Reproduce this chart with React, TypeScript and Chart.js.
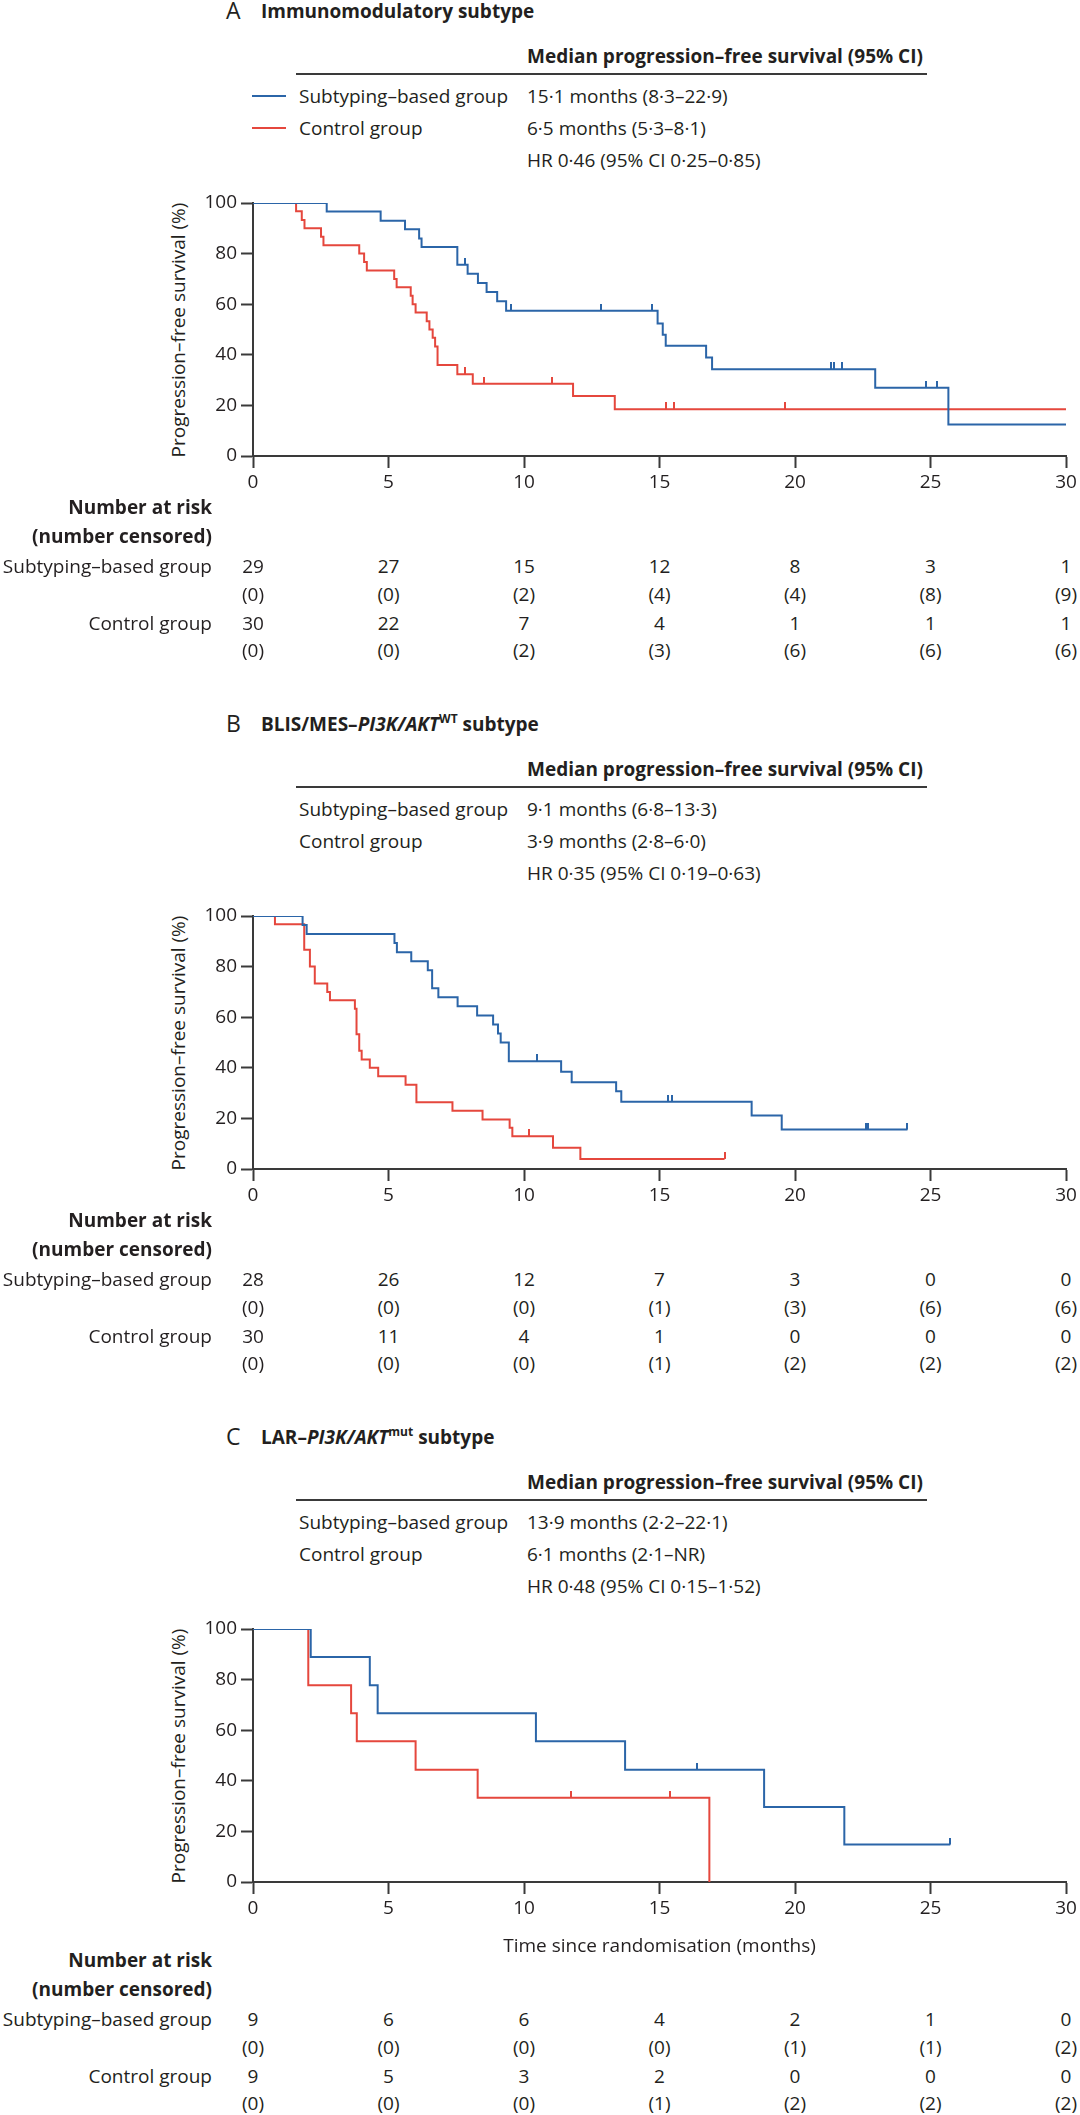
import React, { useEffect, useRef } from "react";
import { Chart, registerables } from "chart.js";

Chart.register(...registerables);

if (typeof document !== "undefined") {
  document.body.style.margin = "0";
}

const FONT = "'Open Sans', 'DejaVu Sans', sans-serif";
const BLUE = "#2b65a8";
const RED = "#e5473d";
const AXIS = "#3a3a3a";
const TEXT = "#231f20";

// ---------- shared ticks / labels ----------
const X_TICKS = [0, 5, 10, 15, 20, 25, 30];
const Y_TICKS = [0, 20, 40, 60, 80, 100];
const GROUP_LABELS = ["Subtyping–based group", "Control group"];
const HEADER = "Median progression–free survival (95% CI)";

// ---------- Panel A: Immunomodulatory subtype ----------
const A_SUB_TIMES = [2.72, 4.71, 5.61, 6.13, 6.22, 7.54, 7.92, 8.3, 8.62, 9.01, 9.34, 14.93, 15.12, 15.23, 16.72, 16.94, 22.96, 25.66];
const A_SUB_SURV = [96.6, 93.0, 89.6, 86.0, 82.6, 75.6, 72.0, 68.4, 64.8, 61.2, 57.4, 52.4, 47.9, 43.6, 38.9, 34.3, 27.0, 12.5];
const A_SUB_CENSOR = [7.82, 9.51, 12.83, 14.73, 21.33, 21.43, 21.75, 24.83, 25.24];
const A_SUB_END = 30;
const A_CTL_TIMES = [1.59, 1.8, 1.9, 2.51, 2.6, 3.92, 4.1, 4.2, 5.21, 5.3, 5.82, 5.89, 6.0, 6.41, 6.51, 6.63, 6.72, 6.81, 7.54, 8.11, 11.81, 13.35];
const A_CTL_SURV = [96.7, 93.3, 90.0, 86.7, 83.3, 80.0, 76.7, 73.3, 70.0, 66.7, 63.3, 60.0, 56.7, 53.3, 50.0, 46.7, 43.3, 36.0, 32.3, 28.6, 23.7, 18.5];
const A_CTL_CENSOR = [7.82, 8.54, 11.05, 15.23, 15.52, 19.64];
const A_CTL_END = 30;
const A_MEDIANS = ["15·1 months (8·3–22·9)", "6·5 months (5·3–8·1)", "HR 0·46 (95% CI 0·25–0·85)"];
const A_SUB_RISK = [29, 27, 15, 12, 8, 3, 1];
const A_SUB_CENS = [0, 0, 2, 4, 4, 8, 9];
const A_CTL_RISK = [30, 22, 7, 4, 1, 1, 1];
const A_CTL_CENS = [0, 0, 2, 3, 6, 6, 6];

// ---------- Panel B: BLIS/MES-PI3K/AKT WT subtype ----------
const B_SUB_TIMES = [1.83, 1.98, 5.22, 5.31, 5.84, 6.45, 6.61, 6.84, 7.55, 8.27, 8.86, 9.04, 9.14, 9.44, 11.37, 11.76, 13.4, 13.59, 18.4, 19.51];
const B_SUB_SURV = [96.4, 92.9, 89.3, 85.7, 82.1, 78.6, 71.4, 67.9, 64.3, 60.7, 57.1, 53.6, 50.0, 42.6, 38.4, 34.3, 30.7, 26.6, 21.1, 15.6];
const B_SUB_CENSOR = [10.47, 15.3, 15.45, 22.62, 22.71, 24.15];
const B_SUB_END = 24.15;
const B_CTL_TIMES = [0.81, 1.89, 2.1, 2.28, 2.74, 2.84, 3.76, 3.82, 3.92, 4.01, 4.31, 4.62, 5.63, 6.03, 7.36, 8.47, 9.47, 9.57, 11.07, 12.08];
const B_CTL_SURV = [96.7, 86.7, 80.0, 73.3, 70.0, 66.7, 63.3, 53.3, 46.7, 43.3, 40.0, 36.7, 33.3, 26.4, 23.0, 19.6, 16.3, 12.9, 8.4, 4.0];
const B_CTL_CENSOR = [10.18, 17.4];
const B_CTL_END = 17.4;
const B_MEDIANS = ["9·1 months (6·8–13·3)", "3·9 months (2·8–6·0)", "HR 0·35 (95% CI 0·19–0·63)"];
const B_SUB_RISK = [28, 26, 12, 7, 3, 0, 0];
const B_SUB_CENS = [0, 0, 0, 1, 3, 6, 6];
const B_CTL_RISK = [30, 11, 4, 1, 0, 0, 0];
const B_CTL_CENS = [0, 0, 0, 1, 2, 2, 2];

// ---------- Panel C: LAR-PI3K/AKT mut subtype ----------
const C_SUB_TIMES = [2.13, 4.31, 4.6, 10.44, 13.73, 18.86, 21.82];
const C_SUB_SURV = [88.9, 77.8, 66.7, 55.6, 44.4, 29.6, 14.8];
const C_SUB_CENSOR = [16.39, 25.73];
const C_SUB_END = 25.73;
const C_CTL_TIMES = [2.04, 3.62, 3.83, 6.0, 8.29, 16.84];
const C_CTL_SURV = [77.8, 66.7, 55.6, 44.4, 33.3, 0];
const C_CTL_CENSOR = [11.73, 15.39];
const C_CTL_END = 16.84;
const C_MEDIANS = ["13·9 months (2·2–22·1)", "6·1 months (2·1–NR)", "HR 0·48 (95% CI 0·15–1·52)"];
const C_SUB_RISK = [9, 6, 6, 4, 2, 1, 0];
const C_SUB_CENS = [0, 0, 0, 0, 1, 1, 2];
const C_CTL_RISK = [9, 5, 3, 2, 0, 0, 0];
const C_CTL_CENS = [0, 0, 0, 1, 2, 2, 2];

// ---------- layout ----------
const PLOT_LEFT = 253;
const PLOT_RIGHT = 1066;
const PLOT_H = 253;
const PAD_TOP = 20;
const X_AXIS_H = 50;
const CANVAS_H = PAD_TOP + PLOT_H + X_AXIS_H;
const X_MAX = 30;
const xPos = (v: number) => PLOT_LEFT + (v * (PLOT_RIGHT - PLOT_LEFT)) / X_MAX;

type Curve = { times: number[]; surv: number[]; censor: number[]; end: number };

function kmPoints(c: Curve) {
  const pts = [{ x: 0, y: 100 }];
  c.times.forEach((t, i) => pts.push({ x: t, y: c.surv[i] }));
  const last = pts[pts.length - 1];
  if (c.end > last.x) pts.push({ x: c.end, y: last.y });
  return pts;
}

function survAt(c: Curve, t: number) {
  let s = 100;
  c.times.forEach((tt, i) => {
    if (tt <= t) s = c.surv[i];
  });
  return s;
}

function tickImage(color: string) {
  const cv = document.createElement("canvas");
  cv.width = 2;
  cv.height = 14;
  const g = cv.getContext("2d")!;
  g.fillStyle = color;
  g.fillRect(0, 0, 2, 7);
  return cv;
}

function KMChart({ top, sub, ctl }: { top: number; sub: Curve; ctl: Curve }) {
  const ref = useRef<HTMLCanvasElement>(null);
  useEffect(() => {
    if (!ref.current) return;
    const tickFont = { family: FONT, size: 19 };
    const chart = new Chart(ref.current, {
      type: "line",
      data: {
        datasets: [
          {
            data: sub.censor.map((t) => ({ x: t, y: survAt(sub, t) })),
            showLine: false,
            pointStyle: tickImage(BLUE) as any,
            pointRadius: 5,
            borderColor: BLUE,
          },
          {
            data: ctl.censor.map((t) => ({ x: t, y: survAt(ctl, t) })),
            showLine: false,
            pointStyle: tickImage(RED) as any,
            pointRadius: 5,
            borderColor: RED,
          },
          {
            data: kmPoints(sub),
            borderColor: BLUE,
            borderWidth: 2,
            stepped: "before",
            pointRadius: 0,
            fill: false,
          },
          {
            data: kmPoints(ctl),
            borderColor: RED,
            borderWidth: 2,
            stepped: "before",
            pointRadius: 0,
            fill: false,
          },
        ] as any,
      },
      options: {
        animation: false,
        responsive: false,
        events: [],
        layout: { padding: { top: PAD_TOP, right: 1080 - PLOT_RIGHT, bottom: 0, left: 0 } },
        plugins: { legend: { display: false }, tooltip: { enabled: false } },
        scales: {
          x: {
            type: "linear",
            min: 0,
            max: X_MAX,
            afterBuildTicks: (s: any) => {
              s.ticks = X_TICKS.map((v) => ({ value: v }));
            },
            afterFit: (s: any) => {
              s.height = X_AXIS_H;
            },
            ticks: { font: tickFont, color: TEXT, padding: 3, maxRotation: 0, autoSkip: false },
            grid: { drawOnChartArea: false, drawTicks: true, tickLength: 12, tickWidth: 2, tickColor: AXIS },
            border: { display: true, color: AXIS, width: 2 },
          },
          y: {
            type: "linear",
            min: 0,
            max: 100,
            afterBuildTicks: (s: any) => {
              s.ticks = Y_TICKS.map((v) => ({ value: v }));
            },
            afterFit: (s: any) => {
              s.width = PLOT_LEFT;
            },
            ticks: { font: tickFont, color: TEXT, padding: 4, autoSkip: false },
            grid: { drawOnChartArea: false, drawTicks: true, tickLength: 12, tickWidth: 2, tickColor: AXIS },
            border: { display: true, color: AXIS, width: 2 },
          },
        },
      } as any,
    });
    return () => chart.destroy();
  }, []);
  return (
    <canvas
      ref={ref}
      width={1080}
      height={CANVAS_H}
      style={{ position: "absolute", left: 0, top: top - PAD_TOP, width: 1080, height: CANVAS_H }}
    />
  );
}

function T({
  x,
  y,
  align = "left",
  bold = false,
  size = 19,
  children,
}: {
  x: number;
  y: number;
  align?: "left" | "center" | "right";
  bold?: boolean;
  size?: number;
  children: React.ReactNode;
}) {
  const tx = align === "left" ? "0" : align === "center" ? "-50%" : "-100%";
  return (
    <div
      style={{
        position: "absolute",
        left: x,
        top: y,
        transform: `translate(${tx}, -50%)`,
        whiteSpace: "nowrap",
        fontWeight: bold ? 700 : 400,
        fontSize: size,
        lineHeight: 1.2,
      }}
    >
      {children}
    </div>
  );
}

type PanelDef = {
  letter: string;
  title: React.ReactNode;
  top: number;
  sub: Curve;
  ctl: Curve;
  medians: string[];
  swatches: boolean;
  xTitle: boolean;
  subRisk: number[];
  subCens: number[];
  ctlRisk: number[];
  ctlCens: number[];
};

const PANELS: PanelDef[] = [
  {
    letter: "A",
    title: <>Immunomodulatory subtype</>,
    top: 203,
    sub: { times: A_SUB_TIMES, surv: A_SUB_SURV, censor: A_SUB_CENSOR, end: A_SUB_END },
    ctl: { times: A_CTL_TIMES, surv: A_CTL_SURV, censor: A_CTL_CENSOR, end: A_CTL_END },
    medians: A_MEDIANS,
    swatches: true,
    xTitle: false,
    subRisk: A_SUB_RISK,
    subCens: A_SUB_CENS,
    ctlRisk: A_CTL_RISK,
    ctlCens: A_CTL_CENS,
  },
  {
    letter: "B",
    title: (
      <>
        BLIS/MES–<i>PI3K/AKT</i>
        <sup style={{ fontSize: 12 }}>WT</sup> subtype
      </>
    ),
    top: 916,
    sub: { times: B_SUB_TIMES, surv: B_SUB_SURV, censor: B_SUB_CENSOR, end: B_SUB_END },
    ctl: { times: B_CTL_TIMES, surv: B_CTL_SURV, censor: B_CTL_CENSOR, end: B_CTL_END },
    medians: B_MEDIANS,
    swatches: false,
    xTitle: false,
    subRisk: B_SUB_RISK,
    subCens: B_SUB_CENS,
    ctlRisk: B_CTL_RISK,
    ctlCens: B_CTL_CENS,
  },
  {
    letter: "C",
    title: (
      <>
        LAR–<i>PI3K/AKT</i>
        <sup style={{ fontSize: 12 }}>mut</sup> subtype
      </>
    ),
    top: 1629,
    sub: { times: C_SUB_TIMES, surv: C_SUB_SURV, censor: C_SUB_CENSOR, end: C_SUB_END },
    ctl: { times: C_CTL_TIMES, surv: C_CTL_SURV, censor: C_CTL_CENSOR, end: C_CTL_END },
    medians: C_MEDIANS,
    swatches: false,
    xTitle: true,
    subRisk: C_SUB_RISK,
    subCens: C_SUB_CENS,
    ctlRisk: C_CTL_RISK,
    ctlCens: C_CTL_CENS,
  },
];

function Panel({ p }: { p: PanelDef }) {
  const P = p.top;
  const Z = P + PLOT_H;
  const d = p.xTitle ? 27 : 0;
  const rowY = [P - 107, P - 75, P - 43];
  const riskRows = [
    { label: GROUP_LABELS[0], vals: p.subRisk.map(String), y: Z + 110 + d },
    { label: "", vals: p.subCens.map((v) => `(${v})`), y: Z + 138 + d },
    { label: GROUP_LABELS[1], vals: p.ctlRisk.map(String), y: Z + 167 + d },
    { label: "", vals: p.ctlCens.map((v) => `(${v})`), y: Z + 194 + d },
  ];
  return (
    <>
      <T x={226} y={P - 192} size={23}>
        {p.letter}
      </T>
      <T x={261} y={P - 192} bold>
        {p.title}
      </T>
      <T x={527} y={P - 147} bold>
        {HEADER}
      </T>
      <div style={{ position: "absolute", left: 296, width: 631, top: P - 130, height: 2, background: AXIS }} />
      {p.swatches && (
        <>
          <div style={{ position: "absolute", left: 252, width: 34, top: rowY[0] - 1, height: 2, background: BLUE }} />
          <div style={{ position: "absolute", left: 252, width: 34, top: rowY[1] - 1, height: 2, background: RED }} />
        </>
      )}
      <T x={299} y={rowY[0]}>{GROUP_LABELS[0]}</T>
      <T x={299} y={rowY[1]}>{GROUP_LABELS[1]}</T>
      <T x={527} y={rowY[0]}>{p.medians[0]}</T>
      <T x={527} y={rowY[1]}>{p.medians[1]}</T>
      <T x={527} y={rowY[2]}>{p.medians[2]}</T>
      <div
        style={{
          position: "absolute",
          left: 178,
          top: P + PLOT_H / 2,
          transform: "translate(-50%, -50%) rotate(-90deg)",
          whiteSpace: "nowrap",
          fontSize: 19,
          lineHeight: 1.2,
        }}
      >
        Progression–free survival (%)
      </div>
      <KMChart top={P} sub={p.sub} ctl={p.ctl} />
      {p.xTitle && (
        <T x={(PLOT_LEFT + PLOT_RIGHT) / 2} y={Z + 63} align="center">
          Time since randomisation (months)
        </T>
      )}
      <T x={212} y={Z + 51 + d} align="right" bold>
        Number at risk
      </T>
      <T x={212} y={Z + 80 + d} align="right" bold>
        (number censored)
      </T>
      {riskRows.map((r, ri) => (
        <React.Fragment key={ri}>
          {r.label && (
            <T x={212} y={r.y} align="right">
              {r.label}
            </T>
          )}
          {r.vals.map((v, i) => (
            <T key={i} x={xPos(X_TICKS[i])} y={r.y} align="center">
              {v}
            </T>
          ))}
        </React.Fragment>
      ))}
    </>
  );
}

export default function App() {
  return (
    <div
      style={{
        position: "relative",
        width: 1080,
        height: 2115,
        overflow: "hidden",
        background: "#ffffff",
        fontFamily: FONT,
        color: TEXT,
      }}
    >
      {PANELS.map((p) => (
        <Panel key={p.letter} p={p} />
      ))}
    </div>
  );
}
